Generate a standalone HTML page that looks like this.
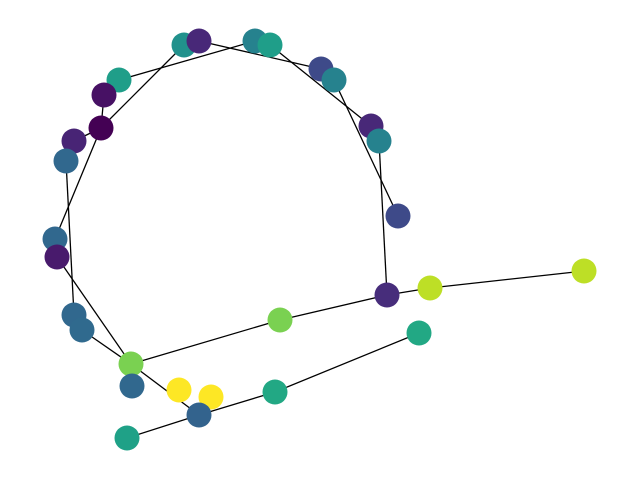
<!DOCTYPE html>
<html><head><meta charset="utf-8"><style>body{margin:0;background:#fff}svg{display:block}</style></head>
<body>
<svg id="g" width="640" height="480" viewBox="0 0 640 480"></svg>
<script>
const nodeX=[184,199,255,270,321,334,119,104,101,74,66,371,379,398,55,57,387,430,584,280,74,82,419,131,132,179,211,275,199,127];
const nodeY=[45,41,41,45,69,80,80,95,128,141,161,126,141,216,239,257,295,288,271,320,315,330,333,364,386,390,397,392,415,438];
const nodeColor=['#21918c','#482878','#26828e','#1f9e89','#3e4a89','#26828e','#1f9e89','#471164','#440154','#482475','#31688e','#482878','#26828e','#3e4a89','#31688e','#481a6c','#472d7b','#bddf26','#bddf26','#7ad151','#31688e','#306a8e','#22a884','#7ad151','#31688e','#fde725','#fde725','#22a884','#33638d','#1fa187'];
const edgeFrom=[6,0,1,3,5,7,9,8,10,15,21,23,23,19,12,16,17,29,28,27];
const edgeTo=[2,8,4,11,13,8,8,14,20,23,23,28,19,16,16,17,18,28,27,22];
const ns='http://www.w3.org/2000/svg';
const svg=document.getElementById('g');
for(let i=0;i<edgeFrom.length;i++){
 const l=document.createElementNS(ns,'line');
 
 
 l.setAttribute('x1',nodeX[edgeFrom[i]]);l.setAttribute('y1',nodeY[edgeFrom[i]]);
 l.setAttribute('x2',nodeX[edgeTo[i]]);l.setAttribute('y2',nodeY[edgeTo[i]]);
 l.setAttribute('stroke','#000');l.setAttribute('stroke-width','1.3');
 svg.appendChild(l);
}
for(let i=0;i<nodeX.length;i++){
 const c=document.createElementNS(ns,'circle');
 
 
 c.setAttribute('cx',nodeX[i]);c.setAttribute('cy',nodeY[i]);c.setAttribute('r','12.5');
 c.setAttribute('fill',nodeColor[i]);
 svg.appendChild(c);
}
</script>
</body></html>
